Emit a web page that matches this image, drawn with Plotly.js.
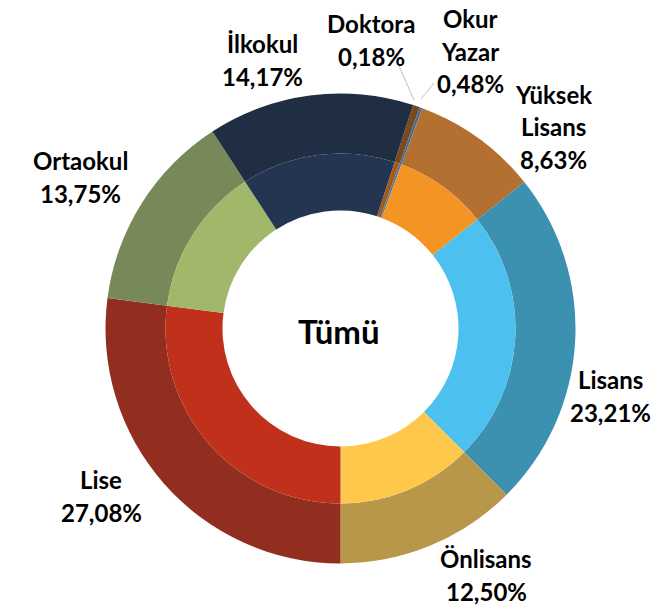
<!DOCTYPE html>
<html>
<head>
<meta charset="utf-8">
<script src="https://cdn.plot.ly/plotly-3.0.1.min.js"></script>
<style>html,body{margin:0;padding:0;background:#fff;}#chart{width:665px;height:611px;}</style>
</head>
<body>
<div id="chart"></div>
<script>
// ---- data ----
const categories = ['Okur Yazar', 'Doktora', 'Yüksek Lisans', 'Lisans', 'Önlisans', 'Lise', 'Ortaokul', 'İlkokul'];
const shares = [0.48, 0.18, 8.63, 23.21, 12.50, 27.08, 13.75, 14.17];
const labelLines = [['Okur', 'Yazar'], ['Doktora'], ['Yüksek', 'Lisans'], ['Lisans'], ['Önlisans'], ['Lise'], ['Ortaokul'], ['İlkokul']];
const centerTitle = 'Tümü';

// ---- styles ----
const outerColors = ['#7A4A1E', '#3E6E9E', '#B47031', '#3C90B0', '#B8964A', '#922E20', '#778959', '#1F2E42'];
const innerColors = ['#A65A18', '#4A78A8', '#F39424', '#4CC0EE', '#FFC84B', '#C0301B', '#A1B86A', '#233550'];
// label block centres, in pixels
const labelPos = [[470, 51], [371, 40], [553, 127], [610, 396], [486, 575], [101, 496], [80, 177], [262, 60]];
const lineGap = 32.5;

const W = 665, H = 611;
const cx = 340.5, cy = 328.5, rOut = 235, rIn = 175, rHole = 118;
const px = (x) => x / W;
const py = (y) => 1 - y / H;

function fmt(v) { return v.toFixed(2).replace('.', ',') + '%'; }

const outer = {
  type: 'pie', values: shares, labels: categories, sort: false, direction: 'clockwise', rotation: 18,
  hole: rIn / rOut, textinfo: 'none', hoverinfo: 'label+percent',
  marker: { colors: outerColors, line: { width: 0 } },
  domain: { x: [px(cx - rOut), px(cx + rOut)], y: [py(cy + rOut), py(cy - rOut)] }
};
const inner = {
  type: 'pie', values: shares, labels: categories, sort: false, direction: 'clockwise', rotation: 18,
  hole: rHole / rIn, textinfo: 'none', hoverinfo: 'label+percent',
  marker: { colors: innerColors, line: { width: 0 } },
  domain: { x: [px(cx - rIn), px(cx + rIn)], y: [py(cy + rIn), py(cy - rIn)] }
};

const font = { family: 'Lato, "Open Sans", sans-serif', size: 24, color: '#000' };
const annotations = [];
categories.forEach((c, i) => {
  const lines = labelLines[i].concat([fmt(shares[i])]);
  const n = lines.length;
  lines.forEach((t, k) => {
    annotations.push({
      xref: 'paper', yref: 'paper', x: px(labelPos[i][0]),
      y: py(labelPos[i][1] + (k - (n - 1) / 2) * lineGap),
      xanchor: 'center', yanchor: 'middle', showarrow: false,
      text: '<b>' + t + '</b>', font: font
    });
  });
});
annotations.push({
  xref: 'paper', yref: 'paper', x: px(339), y: py(331), xanchor: 'center', yanchor: 'middle',
  showarrow: false, text: '<b>' + centerTitle + '</b>',
  font: { family: 'Lato, "Open Sans", sans-serif', size: 33, color: '#000' }
});

const leader = (x0, y0, x1, y1) => ({
  type: 'line', xref: 'paper', yref: 'paper', x0: px(x0), y0: py(y0), x1: px(x1), y1: py(y1),
  line: { color: '#BFBFBF', width: 1 }
});

const layout = {
  width: W, height: H, margin: { l: 0, r: 0, t: 0, b: 0 },
  showlegend: false, paper_bgcolor: '#fff',
  annotations: annotations,
  shapes: [leader(399, 66, 414, 100), leader(434, 83, 421, 99)]
};

Plotly.newPlot('chart', [outer, inner], layout, { displayModeBar: false, staticPlot: true });
</script>
</body>
</html>
